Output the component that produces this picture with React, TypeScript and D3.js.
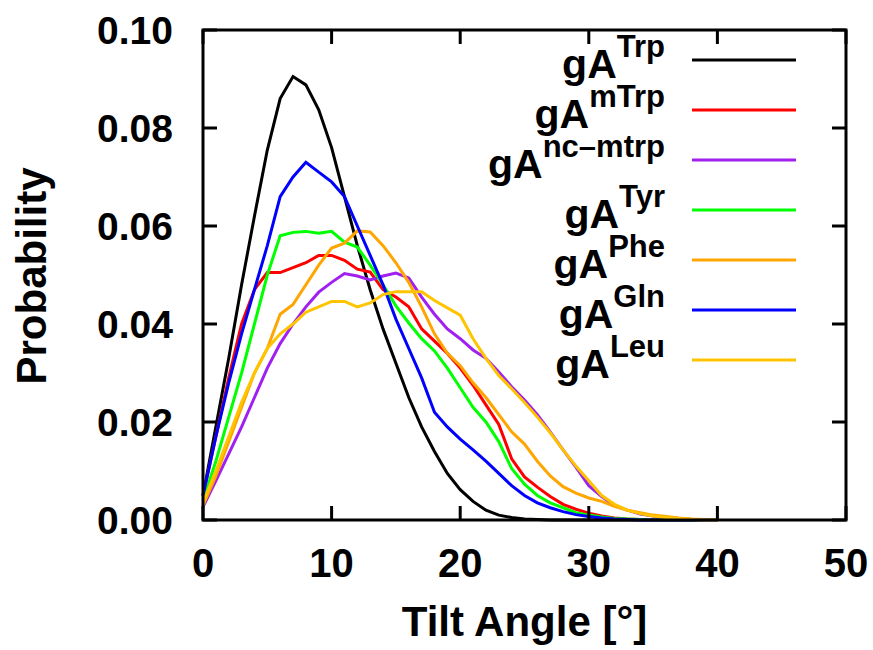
import React from "react";
import * as d3 from "d3";

const angles: number[] = d3.range(0, 41);

const trp = [0.005, 0.019, 0.033, 0.048, 0.062, 0.0755, 0.086, 0.0905, 0.0888, 0.0837, 0.076, 0.066, 0.056, 0.047, 0.039, 0.032, 0.025, 0.019, 0.014, 0.0095, 0.0062, 0.0038, 0.002, 0.001, 0.0005, 0.0002, 0.0001, 0, 0, 0, 0, 0, 0, 0, 0, 0, 0, 0, 0, 0, 0];
const mtrp = [0.005, 0.017, 0.029, 0.04, 0.047, 0.0505, 0.0505, 0.0515, 0.0525, 0.054, 0.054, 0.053, 0.0512, 0.0506, 0.047, 0.0455, 0.0435, 0.039, 0.0365, 0.034, 0.031, 0.0275, 0.0235, 0.0195, 0.0125, 0.0088, 0.0067, 0.0048, 0.0032, 0.0022, 0.0014, 0.0008, 0.0004, 0.0002, 0.0001, 0, 0, 0, 0, 0, 0];
const ncmtrp = [0.0027, 0.008, 0.0135, 0.019, 0.025, 0.031, 0.036, 0.04, 0.0435, 0.0465, 0.0485, 0.0503, 0.0498, 0.049, 0.0498, 0.0504, 0.0494, 0.0455, 0.042, 0.039, 0.037, 0.0347, 0.033, 0.0302, 0.0272, 0.0245, 0.0215, 0.018, 0.0143, 0.0108, 0.007, 0.0048, 0.003, 0.002, 0.0012, 0.0008, 0.0005, 0.0003, 0.0001, 0, 0];
const tyr = [0.004, 0.012, 0.021, 0.03, 0.04, 0.05, 0.058, 0.0587, 0.0589, 0.0585, 0.0589, 0.0567, 0.0557, 0.052, 0.048, 0.0437, 0.0402, 0.037, 0.0345, 0.031, 0.027, 0.023, 0.02, 0.016, 0.0105, 0.0073, 0.005, 0.0035, 0.0025, 0.0015, 0.001, 0.0006, 0.0003, 0.0002, 0.0001, 0, 0, 0, 0, 0, 0];
const phe = [0.003, 0.009, 0.016, 0.023, 0.03, 0.035, 0.042, 0.044, 0.048, 0.052, 0.0555, 0.0565, 0.059, 0.0588, 0.056, 0.0525, 0.0485, 0.0435, 0.038, 0.034, 0.0315, 0.028, 0.025, 0.0215, 0.018, 0.0155, 0.012, 0.009, 0.0068, 0.0055, 0.0045, 0.0038, 0.0028, 0.002, 0.0015, 0.001, 0.0007, 0.0004, 0.0002, 0.0001, 0];
const gln = [0.005, 0.017, 0.028, 0.038, 0.047, 0.056, 0.066, 0.07, 0.073, 0.071, 0.069, 0.066, 0.06, 0.054, 0.048, 0.041, 0.035, 0.029, 0.022, 0.019, 0.0165, 0.0143, 0.012, 0.0095, 0.007, 0.005, 0.0035, 0.0025, 0.0017, 0.0011, 0.0007, 0.0004, 0.0002, 0.0001, 0, 0, 0, 0, 0, 0, 0];
const leu = [0.0035, 0.01, 0.017, 0.024, 0.03, 0.035, 0.038, 0.04, 0.0424, 0.0435, 0.0446, 0.0446, 0.0435, 0.0443, 0.046, 0.0466, 0.0466, 0.0466, 0.0448, 0.0433, 0.0418, 0.037, 0.033, 0.0295, 0.0268, 0.024, 0.021, 0.0178, 0.0143, 0.011, 0.008, 0.005, 0.0032, 0.002, 0.0013, 0.0008, 0.0005, 0.0003, 0.0001, 0, 0];

const seriesNames = ["Trp", "mTrp", "nc\u2013mtrp", "Tyr", "Phe", "Gln", "Leu"];
const seriesValues = [trp, mtrp, ncmtrp, tyr, phe, gln, leu];
const seriesColors = ["#000000", "#ff0000", "#a020f0", "#00ff00", "#ffa500", "#0000ff", "#ffc400"];

const xTicks = [0, 10, 20, 30, 40, 50];
const yTicks = [0, 0.02, 0.04, 0.06, 0.08, 0.1];

const W = 873;
const H = 650;
const L = 203, R = 846, T = 30, B = 520;
const FONT = "'Liberation Sans', Arial, Helvetica, sans-serif";

export default function App() {
  const x = d3.scaleLinear().domain([0, 50]).range([L, R]);
  const y = d3.scaleLinear().domain([0, 0.1]).range([B, T]);
  const line = d3
    .line<number>()
    .x((_, i) => x(angles[i]))
    .y((d) => y(d));
  const tickLen = 14;

  return (
    <svg
      width={W}
      height={H}
      style={{ position: "absolute", left: 0, top: 0, background: "#fff" }}
      fontFamily={FONT}
      fontWeight="bold"
    >
      <rect x={0} y={0} width={W} height={H} fill="#fff" />
      {seriesValues.map((vals, k) => (
        <path
          key={k}
          d={line(vals) || ""}
          fill="none"
          stroke={seriesColors[k]}
          strokeWidth={3}
          strokeLinejoin="miter"
        />
      ))}
      {xTicks.map((t) => (
        <g key={"x" + t}>
          <line x1={x(t)} x2={x(t)} y1={B} y2={B - tickLen} stroke="#000" strokeWidth={3} />
          <line x1={x(t)} x2={x(t)} y1={T} y2={T + tickLen} stroke="#000" strokeWidth={3} />
          <text x={x(t)} y={577} textAnchor="middle" fontSize={40}>
            {t}
          </text>
        </g>
      ))}
      {yTicks.map((t) => (
        <g key={"y" + t}>
          <line x1={L} x2={L + tickLen} y1={y(t)} y2={y(t)} stroke="#000" strokeWidth={3} />
          <line x1={R} x2={R - tickLen} y1={y(t)} y2={y(t)} stroke="#000" strokeWidth={3} />
          <text x={173} y={y(t) + 14} textAnchor="end" fontSize={39}>
            {d3.format(".2f")(t)}
          </text>
        </g>
      ))}
      <rect x={L} y={T} width={R - L} height={B - T} fill="none" stroke="#000" strokeWidth={3} />
      {seriesNames.map((name, k) => {
        const ly = 60 + k * 50;
        return (
          <g key={"leg" + k}>
            <text x={665} y={ly + 18} textAnchor="end" fontSize={41}>
              gA
              <tspan fontSize={31} dy={-21}>
                {name}
              </tspan>
            </text>
            <line x1={692} x2={796} y1={ly} y2={ly} stroke={seriesColors[k]} strokeWidth={3} />
          </g>
        );
      })}
      <text x={(L + R) / 2} y={636} textAnchor="middle" fontSize={42}>
        Tilt Angle [°]
      </text>
      <text
        transform={`translate(46, ${(T + B) / 2 + 1}) rotate(-90)`}
        textAnchor="middle"
        fontSize={42}
      >
        Probability
      </text>
    </svg>
  );
}
